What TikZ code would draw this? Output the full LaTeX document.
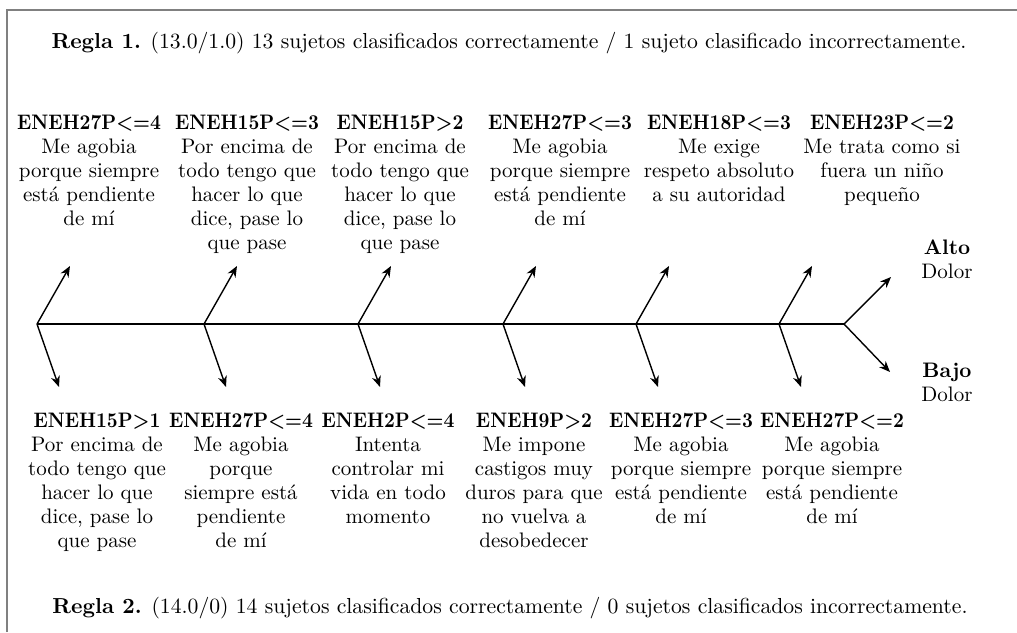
\documentclass[tikz,border=0pt]{standalone}
\usepackage{graphicx}
\usetikzlibrary{arrows.meta}

\newcommand{\cabeza}[1]{\scalebox{0.9}[1]{\textbf{#1}}}

\tikzset{
  espina/.style={line width=0.7pt},
  rama/.style={-{Stealth[length=5.5pt,width=4.5pt]}, line width=0.7pt},
  etiqueta/.style={align=center, inner sep=0pt, anchor=north, font=\fontsize{10.5}{12}\selectfont},
  regla/.style={inner sep=0pt, font=\fontsize{10.85}{12}\selectfont},
  marco/.style={draw=gray, line width=1pt}
}

\begin{document}
\begin{tikzpicture}[x=0.5pt,y=-0.5pt]
    \useasboundingbox (0,0) rectangle (1017,632);
    \draw[marco] (7,632) |- (1017,10);

    \node[regla] (regla1) at (509,43) {\textbf{Regla 1.} (13.0/1.0) 13 sujetos clasificados correctamente / 1 sujeto clasificado incorrectamente.};
    \node[regla] (regla2) at (510,608) {\textbf{Regla 2.} (14.0/0) 14 sujetos clasificados correctamente / 0 sujetos clasificados incorrectamente.};

    % espina
    \coordinate (j1) at (37,324);
    \coordinate (j2) at (204,324);
    \coordinate (j3) at (358,324);
    \coordinate (j4) at (503,324);
    \coordinate (j5) at (636,324);
    \coordinate (j6) at (779,324);
    \coordinate (fin) at (844,324);
    \draw[espina] (j1) -- (fin);

    \coordinate (a1) at (70,266);
    \coordinate (a2) at (237,266);
    \coordinate (a3) at (391,266);
    \coordinate (a4) at (536,266);
    \coordinate (a5) at (669,266);
    \coordinate (a6) at (812,266);
    \coordinate (b1) at (59,387);
    \coordinate (b2) at (226,387);
    \coordinate (b3) at (380,387);
    \coordinate (b4) at (525,387);
    \coordinate (b5) at (658,387);
    \coordinate (b6) at (801,387);
    \coordinate (alta) at (891,277);
    \coordinate (baja) at (890,372);

    \draw[rama] (j1) -- (a1);
    \draw[rama] (j2) -- (a2);
    \draw[rama] (j3) -- (a3);
    \draw[rama] (j4) -- (a4);
    \draw[rama] (j5) -- (a5);
    \draw[rama] (j6) -- (a6);
    \draw[rama] (j1) -- (b1);
    \draw[rama] (j2) -- (b2);
    \draw[rama] (j3) -- (b3);
    \draw[rama] (j4) -- (b4);
    \draw[rama] (j5) -- (b5);
    \draw[rama] (j6) -- (b6);
    \draw[rama] (fin) -- (alta);
    \draw[rama] (fin) -- (baja);

    % ramas de arriba
    \node[etiqueta] (arr1) at (89,115) {\cabeza{ENEH27P<=4}\\Me agobia\\porque siempre\\está pendiente\\de mí};
    \node[etiqueta] (arr2) at (247,115) {\cabeza{ENEH15P<=3}\\Por encima de\\todo tengo que\\hacer lo que\\dice, pase lo\\que pase};
    \node[etiqueta] (arr3) at (400,115) {\cabeza{ENEH15P>2}\\Por encima de\\todo tengo que\\hacer lo que\\dice, pase lo\\que pase};
    \node[etiqueta] (arr4) at (560,115) {\cabeza{ENEH27P<=3}\\Me agobia\\porque siempre\\está pendiente\\de mí};
    \node[etiqueta] (arr5) at (719,115) {\cabeza{ENEH18P<=3}\\Me exige\\respeto absoluto\\a su autoridad};
    \node[etiqueta] (arr6) at (882,115) {\cabeza{ENEH23P<=2}\\Me trata como si\\fuera un niño\\pequeño};

    % ramas de abajo
    \node[etiqueta] (aba1) at (97,413) {\cabeza{ENEH15P>1}\\Por encima de\\todo tengo que\\hacer lo que\\dice, pase lo\\que pase};
    \node[etiqueta] (aba2) at (241,413) {\cabeza{ENEH27P<=4}\\Me agobia\\porque\\siempre está\\pendiente\\de mí};
    \node[etiqueta] (aba3) at (388,413) {\cabeza{ENEH2P<=4}\\Intenta\\controlar mi\\vida en todo\\momento};
    \node[etiqueta] (aba4) at (534,413) {\cabeza{ENEH9P>2}\\Me impone\\castigos muy\\duros para que\\no vuelva a\\desobedecer};
    \node[etiqueta] (aba5) at (681,413) {\cabeza{ENEH27P<=3}\\Me agobia\\porque siempre\\está pendiente\\de mí};
    \node[etiqueta] (aba6) at (832,413) {\cabeza{ENEH27P<=2}\\Me agobia\\porque siempre\\está pendiente\\de mí};

    \node[etiqueta] (alto) at (947,239) {\textbf{Alto}\\Dolor};
    \node[etiqueta] (bajo) at (947,363) {\textbf{Bajo}\\Dolor};
\end{tikzpicture}
\end{document}
